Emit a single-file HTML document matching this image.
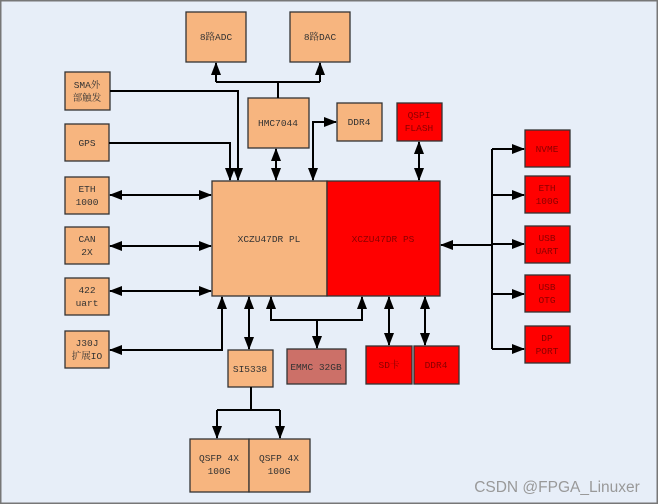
<!DOCTYPE html>
<html><head><meta charset="utf-8"><style>
html,body{margin:0;padding:0;background:#fff}
svg{display:block}
text{font-family:"Liberation Mono","Noto Serif CJK SC",serif;font-size:9.5px;text-anchor:middle;fill:#333}
.rt{fill:#8B0000}
.o{fill:#F7B57F;stroke:#333;stroke-width:1.3}
.r{fill:#FF0000;stroke:#333;stroke-width:1.3}
.l{stroke:#000;stroke-width:2;fill:none}
</style></head><body>
<svg width="658" height="504" viewBox="0 0 658 504" xmlns="http://www.w3.org/2000/svg">
<defs>
<marker id="a" markerWidth="13" markerHeight="10" refX="12" refY="5" orient="auto-start-reverse" markerUnits="userSpaceOnUse"><path d="M0,0L13,5L0,10z" fill="#000"/></marker>
</defs>
<rect x="0.5" y="0.5" width="657" height="503" fill="#E7EEF8" stroke="#777" stroke-width="2"/>
<rect class="o" x="186" y="12" width="60" height="50"/><text x="216" y="40">8路ADC</text>
<rect class="o" x="290" y="12" width="60" height="50"/><text x="320" y="40">8路DAC</text>
<rect class="o" x="65" y="72" width="45" height="38"/><text x="87" y="88">SMA外</text><text x="87" y="101">部触发</text>
<rect class="o" x="65" y="124" width="44" height="37"/><text x="87" y="146">GPS</text>
<rect class="o" x="65" y="177" width="44" height="37"/><text x="87" y="192">ETH</text><text x="87" y="205">1000</text>
<rect class="o" x="65" y="227" width="44" height="37"/><text x="87" y="242">CAN</text><text x="87" y="255">2X</text>
<rect class="o" x="65" y="278" width="44" height="37"/><text x="87" y="293">422</text><text x="87" y="306">uart</text>
<rect class="o" x="65" y="331" width="44" height="37"/><text x="87" y="346">J30J</text><text x="87" y="359">扩展IO</text>
<rect class="o" x="248" y="98" width="61" height="50"/><text x="278" y="126">HMC7044</text>
<rect class="o" x="337" y="103" width="45" height="38"/><text x="359" y="125">DDR4</text>
<rect class="r" x="397" y="103" width="45" height="38"/><text class="rt" x="419" y="118">QSPI</text><text class="rt" x="419" y="131">FLASH</text>
<rect class="o" x="212" y="181" width="115" height="115"/><text x="269" y="242">XCZU47DR PL</text>
<rect class="r" x="327" y="181" width="113" height="115"/><text class="rt" x="383" y="242">XCZU47DR PS</text>
<rect class="r" x="525" y="130" width="45" height="37"/><text class="rt" x="547" y="152">NVME</text>
<rect class="r" x="525" y="176" width="45" height="37"/><text class="rt" x="547" y="191">ETH</text><text class="rt" x="547" y="204">100G</text>
<rect class="r" x="525" y="226" width="45" height="37"/><text class="rt" x="547" y="241">USB</text><text class="rt" x="547" y="254">UART</text>
<rect class="r" x="525" y="275" width="45" height="37"/><text class="rt" x="547" y="290">USB</text><text class="rt" x="547" y="303">OTG</text>
<rect class="r" x="525" y="326" width="45" height="37"/><text class="rt" x="547" y="341">DP</text><text class="rt" x="547" y="354">PORT</text>
<rect class="o" x="228" y="350" width="45" height="37"/><text x="250" y="372">SI5338</text>
<rect x="287" y="349" width="59" height="35" fill="#CC7068" stroke="#333" stroke-width="1.3"/><text x="316" y="370">EMMC 32GB</text>
<rect class="r" x="366" y="346" width="46" height="38"/><text class="rt" x="389" y="368">SD卡</text>
<rect class="r" x="414" y="346" width="45" height="38"/><text class="rt" x="436" y="368">DDR4</text>
<rect class="o" x="190" y="439" width="59" height="53"/><text x="219" y="461">QSFP 4X</text><text x="219" y="474">100G</text>
<rect class="o" x="249" y="439" width="61" height="53"/><text x="279" y="461">QSFP 4X</text><text x="279" y="474">100G</text>
<path class="l" d="M216,82H320" />
<path class="l" d="M216,82V63" marker-end="url(#a)"/>
<path class="l" d="M320,82V63" marker-end="url(#a)"/>
<path class="l" d="M278,82V98"/>
<path class="l" d="M110,91H238V180" marker-end="url(#a)"/>
<path class="l" d="M109,143H230V180" marker-end="url(#a)"/>
<path class="l" d="M110,195H211" marker-start="url(#a)" marker-end="url(#a)"/>
<path class="l" d="M110,246H211" marker-start="url(#a)" marker-end="url(#a)"/>
<path class="l" d="M110,291H211" marker-start="url(#a)" marker-end="url(#a)"/>
<path class="l" d="M110,350H222V297" marker-start="url(#a)" marker-end="url(#a)"/>
<path class="l" d="M276,149V180" marker-start="url(#a)" marker-end="url(#a)"/>
<path class="l" d="M313,180V122H336" marker-start="url(#a)" marker-end="url(#a)"/>
<path class="l" d="M419,142V180" marker-start="url(#a)" marker-end="url(#a)"/>
<path class="l" d="M492,245H441" marker-end="url(#a)"/>
<path class="l" d="M492,149V349"/>
<path class="l" d="M492,149H524" marker-end="url(#a)"/>
<path class="l" d="M492,195H524" marker-end="url(#a)"/>
<path class="l" d="M492,244H524" marker-end="url(#a)"/>
<path class="l" d="M492,294H524" marker-end="url(#a)"/>
<path class="l" d="M492,349H524" marker-end="url(#a)"/>
<path class="l" d="M249,297V349" marker-start="url(#a)" marker-end="url(#a)"/>
<path class="l" d="M271,297V320H362V297" marker-start="url(#a)" marker-end="url(#a)"/>
<path class="l" d="M317,320V348" marker-end="url(#a)"/>
<path class="l" d="M389,297V345" marker-start="url(#a)" marker-end="url(#a)"/>
<path class="l" d="M425,297V345" marker-start="url(#a)" marker-end="url(#a)"/>
<path class="l" d="M251,387V410"/>
<path class="l" d="M217,410H280"/>
<path class="l" d="M217,410V438" marker-end="url(#a)"/>
<path class="l" d="M280,410V438" marker-end="url(#a)"/>
<text x="557" y="492" style="font-family:'Liberation Sans',sans-serif;font-size:15.5px;fill:#999">CSDN @FPGA_Linuxer</text>
</svg>
</body></html>
